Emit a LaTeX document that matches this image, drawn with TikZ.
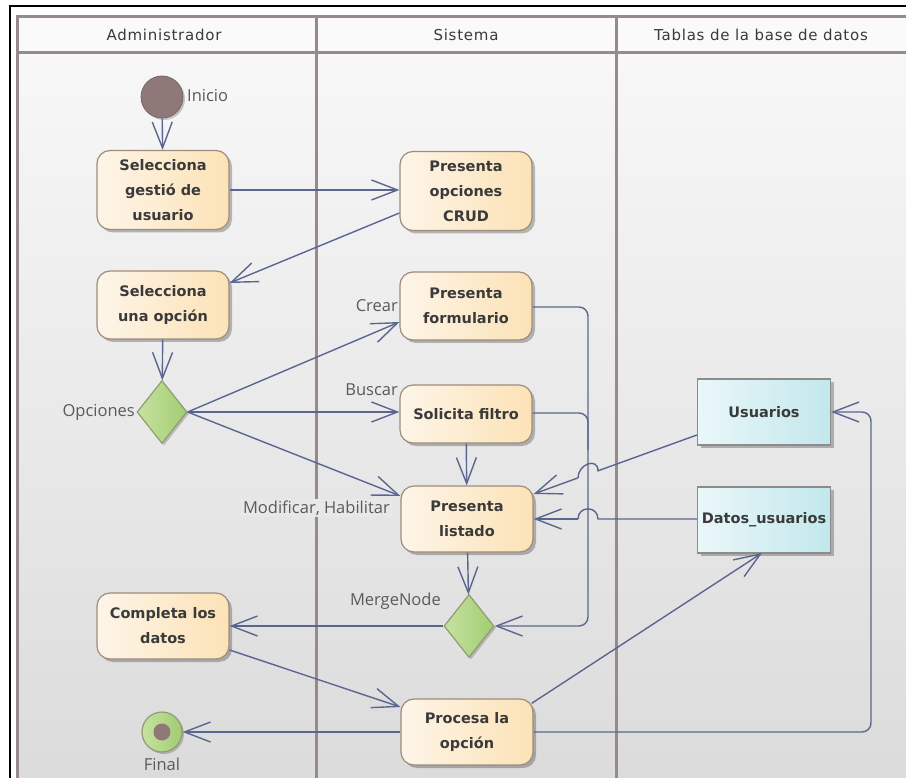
\documentclass[tikz,border=0pt]{standalone}
\usepackage{fontspec}
\setmainfont{DejaVu Sans}
\newfontfamily\labelfont{Open Sans}
\usetikzlibrary{arrows.meta,shapes.geometric,shadows}

\definecolor{laneline}{HTML}{978A8A}
\definecolor{flow}{HTML}{5A6690}
\definecolor{boxborder}{HTML}{9E8C7C}
\definecolor{boxleft}{HTML}{FDF5E8}
\definecolor{boxright}{HTML}{FCE2B6}
\definecolor{tabborder}{HTML}{8C8C8C}
\definecolor{tableft}{HTML}{EAF7F9}
\definecolor{tabright}{HTML}{C2E8EC}
\definecolor{decleft}{HTML}{C6E2A0}
\definecolor{decright}{HTML}{A2CC72}
\definecolor{decborder}{HTML}{8F9E6E}
\definecolor{startfill}{HTML}{8E7878}
\definecolor{labelgray}{HTML}{5A5A5A}
\definecolor{txt}{HTML}{3A3A3A}

\tikzset{
  action/.style={draw=boxborder, line width=1.2pt, rounded corners=13pt,
    left color=boxleft, right color=boxright,
    minimum width=132pt, minimum height=#1, align=center, inner sep=2pt,
    text=txt, font=\fontsize{14.5}{25}\selectfont\bfseries,
    drop shadow={shadow xshift=3pt, shadow yshift=-3pt, opacity=0.25, fill=black}},
  action/.default=66pt,
  dbtable/.style={draw=tabborder, line width=1.2pt,
    left color=tableft, right color=tabright,
    minimum width=133pt, minimum height=66pt, align=center, inner sep=1pt,
    text=txt, font=\fontsize{14.5}{25}\selectfont\bfseries,
    drop shadow={shadow xshift=3pt, shadow yshift=-3pt, opacity=0.25, fill=black}},
  decision/.style={diamond, draw=decborder, line width=1.2pt,
    left color=decleft, right color=decright,
    minimum width=50pt, minimum height=63pt, inner sep=0pt, aspect=0.8,
    drop shadow={shadow xshift=2pt, shadow yshift=-2pt, opacity=0.2, fill=black}},
  lbl/.style={font=\labelfont\fontsize{16.5}{18}\selectfont, text=labelgray, inner sep=0pt},
  head/.style={font=\addfontfeature{LetterSpace=5}\fontsize{15}{17}\selectfont, text=txt},
  flowline/.style={draw=flow, line width=1.4pt},
  tip/.style={flowline, -{Straight Barb[length=26pt,width=20pt,line width=1.4pt]}},
}

\begin{document}
\begin{tikzpicture}[x=1pt, y=-1pt]
  \useasboundingbox (0,0) rectangle (906,778);
  \fill[white] (0,0) rectangle (906,778);

  % swimlane frame and backgrounds
  \shade[top color=white!97!black, bottom color=white!86!black] (17,53) rectangle (906,778);
  \fill[white!98!black] (17,17) rectangle (906,53);
  \draw[laneline, line width=3pt] (906,17) -- (17,17) -- (17,778);
  \draw[laneline, line width=3pt] (17,53) -- (906,53);
  \draw[laneline, line width=3pt] (316,17) -- (316,778);
  \draw[laneline, line width=3pt] (616,17) -- (616,778);
  \draw[black, line width=2pt] (10,778) -- (10,6) -- (906,6);

  \node[head] (h1) at (164,35) {Administrador};
  \node[head] (h2) at (466,35) {Sistema};
  \node[head] (h3) at (761,35) {Tablas de la base de datos};

  % activity nodes
  \node[circle, fill=startfill, draw=startfill!85!black, line width=0.8pt,
        minimum size=42pt, inner sep=0pt,
        drop shadow={shadow xshift=2pt, shadow yshift=-2pt, opacity=0.2, fill=black}] (start) at (162,97) {};
  \node[lbl, anchor=west] (startlbl) at (187,96) {Inicio};

  \node[action=79pt] (gest) at (163,190) {Selecciona\\gestió de\\usuario};
  \node[action=79pt] (crud) at (466,191) {Presenta\\opciones\\CRUD};
  \node[action=68pt] (opc) at (163,305) {Selecciona\\una opción};
  \node[action=68pt] (form) at (466,306) {Presenta\\formulario};
  \node[decision] (dec) at (162,412) {};
  \node[lbl, anchor=east] (declbl) at (135,412) {Opciones};
  \node[action=58pt] (filtro) at (466,414) {Solicita filtro};
  \node[action=66pt] (listado) at (467,519) {Presenta\\listado};
  \node[decision] (merge) at (469,626) {};
  \node[lbl, anchor=east] (mergelbl) at (441,601) {MergeNode};
  \node[action=66pt] (comp) at (163,626) {Completa los\\datos};
  \node[action=66pt] (proc) at (467,732) {Procesa la\\opción};

  \node[circle, draw=decborder, line width=1.2pt, left color=decleft, right color=decright,
        minimum size=40pt, inner sep=0pt,
        drop shadow={shadow xshift=2pt, shadow yshift=-2pt, opacity=0.2, fill=black}] (final) at (162,732) {};
  \node[circle, fill=startfill, minimum size=17pt, inner sep=0pt] (finaldot) at (final.center) {};
  \node[lbl] (finallbl) at (162,764) {Final};

  \node[dbtable] (usr) at (764,412) {Usuarios};
  \node[dbtable] (dat) at (764,520) {Datos\_usuarios};

  % helper points for routed flows
  \coordinate (c1) at (588,307);
  \coordinate (c2) at (588,626);
  \coordinate (c3) at (588,413);
  \coordinate (c4) at (871,732);
  \coordinate (c5) at (871,412);

  % control flows
  \draw[tip] (start) -- (gest);
  \draw[tip] (gest.east) -- (crud.west |- gest.east);
  \draw[tip] (crud.west |- 0,213) -- (opc.east |- 0,283);
  \draw[tip] (opc) -- (dec);
  \draw[tip] (dec.east) -- (form.west |- 0,322);
  \draw[tip] (dec.east) -- (filtro.west |- dec.east);
  \draw[tip] (dec.east) -- (listado.west |- 0,496);
  \draw[tip] (filtro) -- (listado);
  \draw[tip] (listado) -- (merge);
  \draw[tip, rounded corners=9pt] (form.east |- c1) -- (c1) -- (c2) -- (merge.east);
  \draw[flowline, rounded corners=9pt] (filtro.east |- c3) -- (c3) -- (588,450);
  \draw[tip] (merge.west) -- (comp.east |- merge.west);
  \draw[tip] (comp.east |- 0,650) -- (proc.west |- 0,707);
  \draw[tip] (proc.north east) ++(-2,5) -- (762,553);
  \draw[tip, rounded corners=9pt] (proc.east) -- (c4) -- (c5) -- (usr.east);
  \draw[tip] (proc.west) -- (final.east);

  % object flows from the tables, hopping over the merge line
  \draw[flowline] (usr.west |- 0,435) -- (598,470.8)
     .. controls (598,457) and (578,464) .. (578,477.9);
  \draw[tip] (578,477.9) -- (listado.east |- 0,494);
  \draw[flowline] (dat.west |- 0,519) -- (598,519)
     .. controls (598,505.5) and (578,505.5) .. (578,519);
  \draw[tip] (578,519) -- (listado.east |- 0,519);

  % guard labels
  \node[lbl, anchor=east] (crear) at (398,306) {Crear};
  \node[lbl, anchor=east] (buscar) at (398,390) {Buscar};
  \node[lbl, anchor=east, fill=white!91!black, inner sep=2pt] (modif) at (392,508) {Modificar, Habilitar};
\end{tikzpicture}
\end{document}
